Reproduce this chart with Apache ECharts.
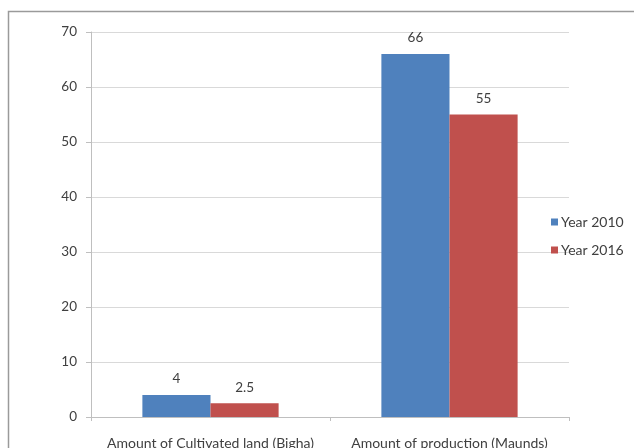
<!DOCTYPE html>
<html><head><meta charset="utf-8">
<script src="https://cdn.jsdelivr.net/npm/echarts@6/dist/echarts.min.js"></script>
<style>html,body{margin:0;padding:0;background:#fff}#c{width:634px;height:448px}</style>
</head><body><div id="c"></div>
<script>
var categories = ['Amount of Cultivated land (Bigha)', 'Amount of production (Maunds)'];
var year2010 = [4, 66];
var year2016 = [2.5, 55];
var seriesNames = ['Year 2010', 'Year 2016'];
var yTicks = [0, 10, 20, 30, 40, 50, 60, 70];

var chart = echarts.init(document.getElementById('c'));
var font = 'Lato, "Open Sans", sans-serif';
var textColor = '#404040';
chart.setOption({
  animation: false,
  textStyle: {fontFamily: font},
  graphic: [{type: 'rect', shape: {x: 8.5, y: 11.5, width: 800, height: 600}, style: {fill: 'none', stroke: '#9a9a9a', lineWidth: 1.5}, silent: true}],
  grid: {left: 91, right: 65, top: 32, bottom: 31, containLabel: false, outerBoundsMode: 'none'},
  legend: {
    orient: 'vertical', left: 546, top: 210, itemWidth: 7, itemHeight: 7, itemGap: 14,
    icon: 'rect', data: seriesNames,
    textStyle: {color: textColor, fontSize: 14, fontFamily: font, padding: [0, 0, 0, -2]}
  },
  xAxis: {
    type: 'category', data: categories,
    axisLine: {lineStyle: {color: '#bfbfbf', width: 1}},
    axisTick: {show: true, length: 4, interval: 0, lineStyle: {color: '#bfbfbf'}},
    axisLabel: {color: textColor, fontSize: 14, margin: 19, interval: 0, fontFamily: font}
  },
  yAxis: {
    type: 'value', min: yTicks[0], max: yTicks[yTicks.length - 1], interval: 10,
    axisLine: {show: true, lineStyle: {color: '#bfbfbf', width: 1}},
    axisTick: {show: true, length: 5, lineStyle: {color: '#bfbfbf'}},
    axisLabel: {color: textColor, fontSize: 13.5, margin: 14, fontFamily: font},
    splitLine: {lineStyle: {color: '#d9d9d9', width: 1}}
  },
  series: [
    {name: seriesNames[0], type: 'bar', data: year2010, barGap: '0%', barCategoryGap: '43%',
     itemStyle: {color: '#4f81bd'},
     label: {show: true, position: 'top', distance: 9, color: textColor, fontSize: 13.5, fontFamily: font}},
    {name: seriesNames[1], type: 'bar', data: year2016, barGap: '0%', barCategoryGap: '43%',
     itemStyle: {color: '#c0504d'},
     label: {show: true, position: 'top', distance: 9, color: textColor, fontSize: 13.5, fontFamily: font}}
  ]
});
</script></body></html>
